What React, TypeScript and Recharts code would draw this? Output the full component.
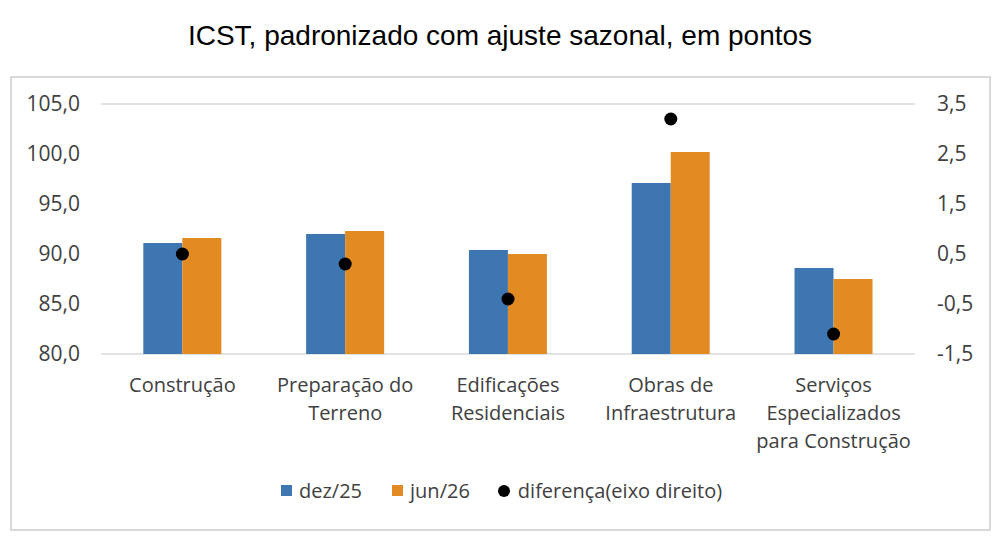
import { Bar, CartesianGrid, ComposedChart, Line, XAxis, YAxis } from "recharts";

const categories = [
  "Construção",
  "Preparação do\nTerreno",
  "Edificações\nResidenciais",
  "Obras de\nInfraestrutura",
  "Serviços\nEspecializados\npara Construção"
];
const dez25 = [91.1, 92.0, 90.4, 97.1, 88.6];
const jun26 = [91.6, 92.3, 90.0, 100.2, 87.5];
const diferenca = [0.5, 0.3, -0.4, 3.2, -1.1];
const leftTicks = [80, 85, 90, 95, 100, 105];
const rightTicks = [-1.5, -0.5, 0.5, 1.5, 2.5, 3.5];

const data = categories.map((name, i) => ({
  name,
  dez25: dez25[i],
  jun26: jun26[i],
  diferenca: diferenca[i]
}));

const BLUE = "#3d76b1";
const ORANGE = "#e28b23";
const FONT = "'Open Sans', sans-serif";
const TEXT = "#404040";

const fmt = (v: number) => v.toFixed(1).replace(".", ",");

function CategoryTick({ x, y, payload }: { x?: number, y?: number, payload?: any }) {
  const lines = String(payload.value).split("\n");
  return (
    <text x={x} y={y} textAnchor="middle" fill={TEXT} fontSize={20} fontFamily={FONT}>
      {lines.map((l, i) => (
        <tspan key={i} x={x} dy={i === 0 ? 30 : 28}>{l}</tspan>
      ))}
    </text>
  );
}

export default function App() {
  return (
    <div style={{ position: "absolute", left: 0, top: 0, width: 1000, height: 545, background: "#fff", fontFamily: FONT }}>
      <div style={{
        position: "absolute", left: 0, top: 20, width: 1000, textAlign: "center",
        fontFamily: "'Liberation Sans', Arial, sans-serif", fontSize: 28, color: "#000"
      }}>
        ICST, padronizado com ajuste sazonal, em pontos
      </div>
      <div style={{
        position: "absolute", left: 10, top: 76, width: 977, height: 451,
        border: "2px solid #d9d9d9"
      }} />
      <div style={{ position: "absolute", left: 0, top: 0 }}>
        <ComposedChart
          data={data}
          width={1000}
          height={545}
          margin={{ top: 104, left: 21, right: 15, bottom: 131 }}
          barGap={0}
          barCategoryGap="26%"
        >
          <CartesianGrid vertical={false} stroke="#d9d9d9" strokeWidth={1.5} />
          <XAxis dataKey="name" axisLine={false} tickLine={false} tick={<CategoryTick />} height={60} interval={0} />
          <YAxis
            yAxisId="left"
            width={80}
            domain={[80, 105]}
            ticks={leftTicks}
            tickFormatter={fmt}
            axisLine={false}
            tickLine={false}
            tickSize={0}
            tickMargin={21}
            tick={{ fill: TEXT, fontSize: 21, fontFamily: FONT }}
          />
          <YAxis
            yAxisId="right"
            orientation="right"
            width={70}
            domain={[-1.5, 3.5]}
            ticks={rightTicks}
            tickFormatter={fmt}
            axisLine={false}
            tickLine={false}
            tickSize={0}
            tickMargin={22}
            tick={{ fill: TEXT, fontSize: 21, fontFamily: FONT, textAnchor: "start" }}
          />
          <Bar yAxisId="left" dataKey="dez25" fill={BLUE} isAnimationActive={false} />
          <Bar yAxisId="left" dataKey="jun26" fill={ORANGE} isAnimationActive={false} />
          <Line
            yAxisId="right"
            dataKey="diferenca"
            stroke="none"
            dot={{ r: 6.5, fill: "#000", stroke: "none" }}
            activeDot={false}
            isAnimationActive={false}
          />
        </ComposedChart>
      </div>
      <div style={{
        position: "absolute", left: 281, top: 477, display: "flex", alignItems: "center",
        fontSize: 20, color: TEXT, whiteSpace: "nowrap"
      }}>
        <span style={{ width: 11, height: 11, background: BLUE, display: "inline-block", marginRight: 7 }} />
        <span style={{ marginRight: 30 }}>dez/25</span>
        <span style={{ width: 11, height: 11, background: ORANGE, display: "inline-block", marginRight: 7 }} />
        <span style={{ marginRight: 28 }}>jun/26</span>
        <span style={{ width: 12, height: 12, background: "#000", borderRadius: "50%", display: "inline-block", marginRight: 8 }} />
        <span>diferença(eixo direito)</span>
      </div>
    </div>
  );
}
